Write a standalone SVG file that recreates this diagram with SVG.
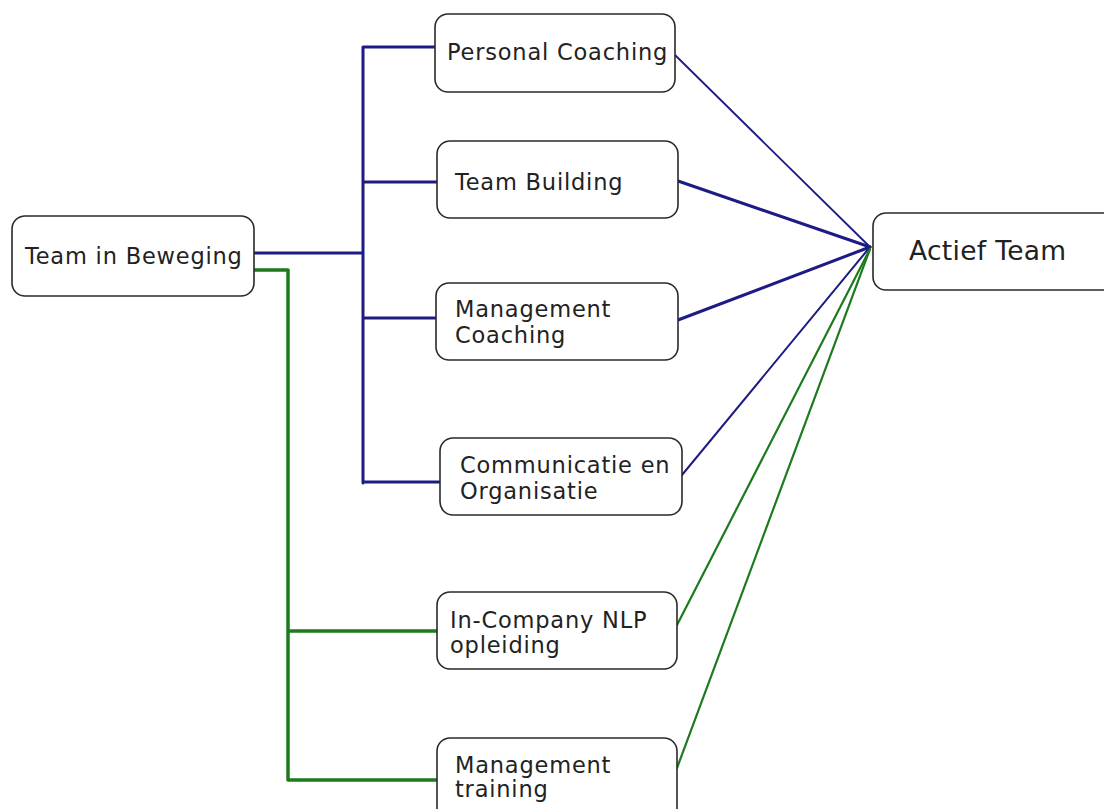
<svg xmlns="http://www.w3.org/2000/svg" width="1104" height="809" viewBox="0 0 1104 809">
<style>
.box{fill:#fff;stroke:#2a2a2a;stroke-width:1.6}
.t{font-family:"DejaVu Sans",Verdana,sans-serif;font-size:22.5px;letter-spacing:0.8px;fill:#222}
.big{font-size:26.5px;letter-spacing:0.3px}
.b{stroke:#1c1c84;fill:none;stroke-linecap:round;stroke-linejoin:round}
.g{stroke:#1d7a1d;fill:none;stroke-linecap:round;stroke-linejoin:round}
</style>
<rect width="1104" height="809" fill="#fff"/>
<g id="connectors">
<path class="b" stroke-width="3" d="M254 253H363M363 47V483M363 47H435M363 182H437M363 318H436M363 482H440"/>
<path class="g" stroke-width="3.5" d="M254 270H288V780H437M288 631H437"/>
<path class="b" stroke-width="1.8" d="M675 55L870 247"/>
<path class="b" stroke-width="3" d="M678 181L870 247"/>
<path class="b" stroke-width="3" d="M678 320L870 247"/>
<path class="b" stroke-width="2" d="M682 475L870 247"/>
<path class="g" stroke-width="2.2" d="M677 625L870 249"/>
<path class="g" stroke-width="2.2" d="M677 768L870 249"/>
</g>
<g id="team-in-beweging"><rect class="box" x="12" y="216" width="242" height="80" rx="13"/><text class="t" x="25" y="264">Team in Beweging</text></g>
<g id="personal-coaching"><rect class="box" x="435" y="14" width="240" height="78" rx="13"/><text class="t" x="447" y="60">Personal Coaching</text></g>
<g id="team-building"><rect class="box" x="437" y="141" width="241" height="77" rx="13"/><text class="t" x="455" y="190">Team Building</text></g>
<g id="management-coaching"><rect class="box" x="436" y="283" width="242" height="77" rx="13"/><text class="t" x="455" y="317">Management</text><text class="t" x="455" y="343">Coaching</text></g>
<g id="communicatie-en-organisatie"><rect class="box" x="440" y="438" width="242" height="77" rx="13"/><text class="t" x="460" y="473">Communicatie en</text><text class="t" x="460" y="499">Organisatie</text></g>
<g id="in-company-nlp"><rect class="box" x="437" y="592" width="240" height="77" rx="13"/><text class="t" x="450" y="628">In-Company NLP</text><text class="t" x="450" y="653">opleiding</text></g>
<g id="management-training"><rect class="box" x="437" y="738" width="240" height="90" rx="13"/><text class="t" x="455" y="773">Management</text><text class="t" x="455" y="797">training</text></g>
<g id="actief-team"><rect class="box" x="873" y="213" width="250" height="77" rx="13"/><text class="t big" x="909" y="260">Actief Team</text></g>
</svg>
